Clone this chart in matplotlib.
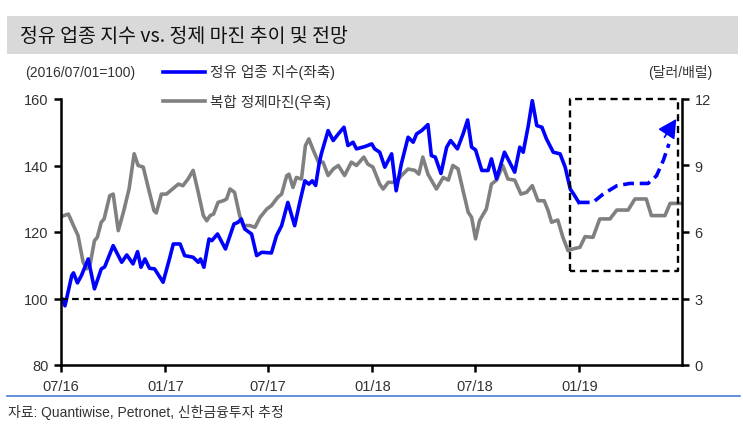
import numpy as np
import pandas as pd
import matplotlib
matplotlib.use('Agg')
import matplotlib.pyplot as plt
from matplotlib.lines import Line2D
from matplotlib.patches import Rectangle

plt.rcParams['font.family'] = ['Liberation Sans', 'Noto Sans CJK KR', 'DejaVu Sans']

# 정유 업종 지수 (left axis, 2016/07/01=100)
idx_dates = ['2016-07-03', '2016-07-08', '2016-07-20', '2016-07-23', '2016-07-30', '2016-08-06',
             '2016-08-18', '2016-08-29', '2016-09-10', '2016-09-16', '2016-10-01', '2016-10-16',
             '2016-10-25', '2016-11-05', '2016-11-13', '2016-11-19', '2016-11-26', '2016-12-04',
             '2016-12-13', '2016-12-28', '2017-01-09', '2017-01-15', '2017-01-27', '2017-02-04',
             '2017-02-19', '2017-02-28', '2017-03-04', '2017-03-10', '2017-03-19', '2017-03-24',
             '2017-04-03', '2017-04-17', '2017-05-02', '2017-05-09', '2017-05-15', '2017-05-21',
             '2017-06-02', '2017-06-11', '2017-06-20', '2017-07-07', '2017-07-16', '2017-07-25',
             '2017-08-05', '2017-08-17', '2017-08-26', '2017-09-04', '2017-09-11', '2017-09-17',
             '2017-09-23', '2017-09-29', '2017-10-03', '2017-10-15', '2017-10-24', '2017-11-02',
             '2017-11-12', '2017-11-19', '2017-11-28', '2017-12-04', '2017-12-19', '2017-12-31',
             '2018-01-05', '2018-01-14', '2018-01-23', '2018-02-04', '2018-02-12', '2018-02-21',
             '2018-03-05', '2018-03-14', '2018-03-20', '2018-03-29', '2018-04-09', '2018-04-15',
             '2018-04-22', '2018-05-02', '2018-05-12', '2018-05-19', '2018-05-31', '2018-06-10',
             '2018-06-18', '2018-06-25', '2018-07-02', '2018-07-13', '2018-07-24', '2018-07-30',
             '2018-08-08', '2018-08-22', '2018-09-09', '2018-09-18', '2018-09-24', '2018-10-03',
             '2018-10-10', '2018-10-18', '2018-10-27', '2018-11-04', '2018-11-16', '2018-11-28',
             '2018-12-07', '2018-12-16', '2018-12-22', '2018-12-31']
idx_vals = [99.8, 97.8, 106.9, 107.7, 104.7, 106.9, 111.9, 102.9, 108.9, 109.5, 115.9, 110.9,
            113.1, 110.4, 114.1, 109.4, 111.9, 109.1, 108.9, 104.9, 112.4, 116.4, 116.4, 112.9,
            112.4, 110.9, 111.9, 109.4, 117.9, 117.4, 119.4, 114.9, 122.4, 122.9, 123.9, 120.9,
            119.4, 112.9, 113.9, 113.7, 118.9, 121.9, 128.9, 121.9, 128.9, 135.4, 134.4, 135.4,
            134.0, 140.4, 143.5, 150.5, 147.5, 149.5, 151.5, 146.0, 147.0, 145.0, 145.7, 146.5,
            145.0, 144.0, 139.5, 143.5, 132.4, 140.4, 148.5, 147.0, 149.5, 150.5, 152.3, 143.0,
            142.5, 137.6, 145.5, 147.5, 145.0, 149.5, 153.7, 145.5, 144.7, 138.5, 138.5, 142.0,
            136.0, 144.0, 138.0, 145.5, 144.0, 152.0, 159.5, 152.0, 151.5, 148.0, 144.0, 143.5,
            139.5, 132.9, 131.4, 128.9]

# 전망 (dashed) and arrow at its end
fc_dates = ['2018-12-31', '2019-01-25', '2019-02-12', '2019-03-08', '2019-03-31', '2019-05-02',
            '2019-05-17', '2019-05-29', '2019-06-08']
fc_vals = [128.9, 128.9, 131.4, 133.9, 134.6, 134.6, 136.9, 141.5, 146.5]
arrow_from = ('2019-05-31', 148.5)
arrow_tip = ('2019-06-21', 154.0)

# 복합 정제마진 (right axis, 달러/배럴)
mg_dates = ['2016-07-03', '2016-07-14', '2016-07-23', '2016-07-31', '2016-08-09', '2016-08-15',
            '2016-08-21', '2016-08-29', '2016-09-03', '2016-09-10', '2016-09-15', '2016-09-25',
            '2016-10-01', '2016-10-10', '2016-10-19', '2016-10-29', '2016-11-07', '2016-11-14',
            '2016-11-23', '2016-12-01', '2016-12-12', '2016-12-16', '2016-12-25', '2017-01-03',
            '2017-01-15', '2017-01-24', '2017-02-01', '2017-02-10', '2017-02-19', '2017-02-28',
            '2017-03-09', '2017-03-15', '2017-03-21', '2017-03-27', '2017-04-04', '2017-04-13',
            '2017-04-19', '2017-04-25', '2017-05-03', '2017-05-12', '2017-05-18', '2017-05-30',
            '2017-06-08', '2017-06-17', '2017-06-29', '2017-07-07', '2017-07-18', '2017-07-25',
            '2017-08-03', '2017-08-07', '2017-08-14', '2017-08-20', '2017-08-29', '2017-09-05',
            '2017-09-11', '2017-09-19', '2017-09-28', '2017-10-06', '2017-10-15', '2017-10-24',
            '2017-11-02', '2017-11-13', '2017-11-25', '2017-12-04', '2017-12-17', '2017-12-24',
            '2018-01-02', '2018-01-14', '2018-01-20', '2018-01-29', '2018-02-12', '2018-02-21',
            '2018-03-05', '2018-03-17', '2018-03-24', '2018-03-31', '2018-04-09', '2018-04-24',
            '2018-05-06', '2018-05-15', '2018-05-23', '2018-06-01', '2018-06-10', '2018-06-19',
            '2018-06-25', '2018-07-02', '2018-07-09', '2018-07-21', '2018-07-30', '2018-08-08',
            '2018-08-19', '2018-08-28', '2018-09-09', '2018-09-20', '2018-09-30', '2018-10-10',
            '2018-10-20', '2018-10-31', '2018-11-07', '2018-11-13', '2018-11-24', '2018-12-03',
            '2018-12-12', '2018-12-21', '2019-01-02', '2019-01-11', '2019-01-25', '2019-02-06',
            '2019-02-24', '2019-03-08', '2019-03-28', '2019-04-09', '2019-04-29', '2019-05-08',
            '2019-06-01', '2019-06-10', '2019-07-03']
mg_vals = [6.71, 6.81, 6.29, 5.84, 4.64, 4.34, 4.49, 5.61, 5.76, 6.44, 6.59, 7.64,
           7.71, 6.06, 6.89, 7.94, 9.53, 9.00, 8.93, 8.09, 6.96, 6.86, 7.71, 7.71,
           7.97, 8.16, 8.09, 8.39, 8.78, 7.79, 6.74, 6.51, 6.74, 6.81, 7.34, 7.41,
           7.49, 7.94, 7.79, 6.74, 6.29, 6.29, 6.21, 6.66, 7.04, 7.19, 7.56, 7.71,
           8.54, 8.61, 8.01, 8.46, 8.39, 9.90, 10.20, 9.68, 9.15, 9.15, 8.55, 8.84,
           9.00, 8.55, 9.15, 9.00, 9.38, 9.06, 8.93, 8.16, 7.94, 8.24, 8.24, 8.54,
           8.84, 8.78, 8.61, 9.38, 8.61, 7.94, 8.46, 8.34, 9.00, 8.85, 7.86, 6.89,
           6.66, 5.69, 6.51, 7.04, 8.16, 8.34, 9.00, 8.39, 8.34, 7.71, 7.79, 8.09,
           7.41, 7.41, 6.96, 6.44, 6.54, 5.76, 5.16, 5.24, 5.31, 5.79, 5.76, 6.59,
           6.59, 6.99, 6.99, 7.49, 7.49, 6.74, 6.74, 7.29, 7.29]

xtick_dates = ['2016-07-01', '2017-01-01', '2017-07-01', '2018-01-01', '2018-07-01', '2019-01-01']
xtick_labels = ['07/16', '01/17', '07/17', '01/18', '07/18', '01/19']

# forecast box
box_start, box_end = '2018-12-16', '2019-06-24'
box_low, box_high = 108.3, 160

W, H = 743, 427
fig = plt.figure(figsize=(W / 100, H / 100), dpi=100)
ax = fig.add_axes([61 / W, 1 - 366 / H, 621 / W, 266 / H])
ax2 = ax.twinx()
ax.set_zorder(ax2.get_zorder() + 1)
ax.patch.set_visible(False)

txt = '#333333'
blue = '#0000ff'
gray = '#808080'

ax2.plot(pd.to_datetime(mg_dates), mg_vals, color=gray, lw=2.6, solid_joinstyle='round')
ax.plot(pd.to_datetime(idx_dates), idx_vals, color=blue, lw=2.6, solid_joinstyle='round')
ax.plot(pd.to_datetime(fc_dates), fc_vals, color=blue, lw=2.6, linestyle=(0, (3, 1.6)))
ax.annotate('', xy=(pd.to_datetime(arrow_tip[0]), arrow_tip[1]),
            xytext=(pd.to_datetime(arrow_from[0]), arrow_from[1]),
            arrowprops=dict(arrowstyle='-|>,head_length=0.95,head_width=0.5', color=blue,
                            lw=1.2, shrinkA=0, shrinkB=0, mutation_scale=12,
                            joinstyle='round'))

ax.axhline(100, color='black', lw=1.6, linestyle=(0, (3, 2)))

b0, b1 = pd.to_datetime(box_start), pd.to_datetime(box_end)
ax.plot([b0, b0, b1, b1, b0], [box_low, box_high, box_high, box_low, box_low],
        color='black', lw=1.7, linestyle=(0, (3, 2)), clip_on=False)

ax.set_xlim(pd.to_datetime('2016-07-01'), pd.to_datetime('2019-07-01'))
ax.set_ylim(80, 160)
ax2.set_ylim(0, 12)
ax.set_yticks(np.arange(80, 161, 20))
ax2.set_yticks(np.arange(0, 13, 3))
ax.set_xticks(pd.to_datetime(xtick_dates))
ax.set_xticklabels(xtick_labels)

for a in (ax, ax2):
    a.spines['top'].set_visible(False)
    for s in ('left', 'right', 'bottom'):
        a.spines[s].set_linewidth(1.8)
    a.tick_params(axis='both', direction='out', length=5, width=1.8,
                  labelsize=10.5, labelcolor=txt, pad=4)
ax.spines['right'].set_visible(False)
ax2.spines['left'].set_visible(False)
ax2.spines['bottom'].set_visible(False)
ax.tick_params(axis='x', pad=5)

# title bar
fig.add_artist(Rectangle((7 / W, 1 - 55 / H), 731 / W, 38 / H, transform=fig.transFigure,
                         facecolor='#d9d9d9', edgecolor='none'))
fig.text(20 / W, 1 - 37 / H, '정유 업종 지수 vs. 정제 마진 추이 및 전망', fontsize=14,
         color='#111111', va='center', ha='left',
         family=['Noto Sans CJK KR', 'DejaVu Sans'])

fig.text(25 / W, 1 - 73 / H, '(2016/07/01=100)', fontsize=10, color=txt, va='center')
fig.text(712 / W, 1 - 73 / H, '(달러/배럴)', fontsize=10, color=txt, va='center', ha='right')

# legend
fig.add_artist(Line2D([163 / W, 205 / W], [1 - 73 / H, 1 - 73 / H], color=blue, lw=2.6,
                      transform=fig.transFigure))
fig.text(210 / W, 1 - 73 / H, '정유 업종 지수(좌축)', fontsize=10.5, color=txt, va='center')
fig.add_artist(Line2D([163 / W, 205 / W], [1 - 102 / H, 1 - 102 / H], color=gray, lw=2.6,
                      transform=fig.transFigure))
fig.text(210 / W, 1 - 102 / H, '복합 정제마진(우축)', fontsize=10.5, color=txt, va='center')

# bottom separator and source
fig.add_artist(Line2D([7 / W, 740 / W], [1 - 397 / H, 1 - 397 / H], color='#4a7bd6', lw=1.2,
                      transform=fig.transFigure))
fig.text(8 / W, 1 - 413 / H, '자료: Quantiwise, Petronet, 신한금융투자 추정', fontsize=10,
         color=txt, va='center')

fig.savefig('out.png', dpi=100)
